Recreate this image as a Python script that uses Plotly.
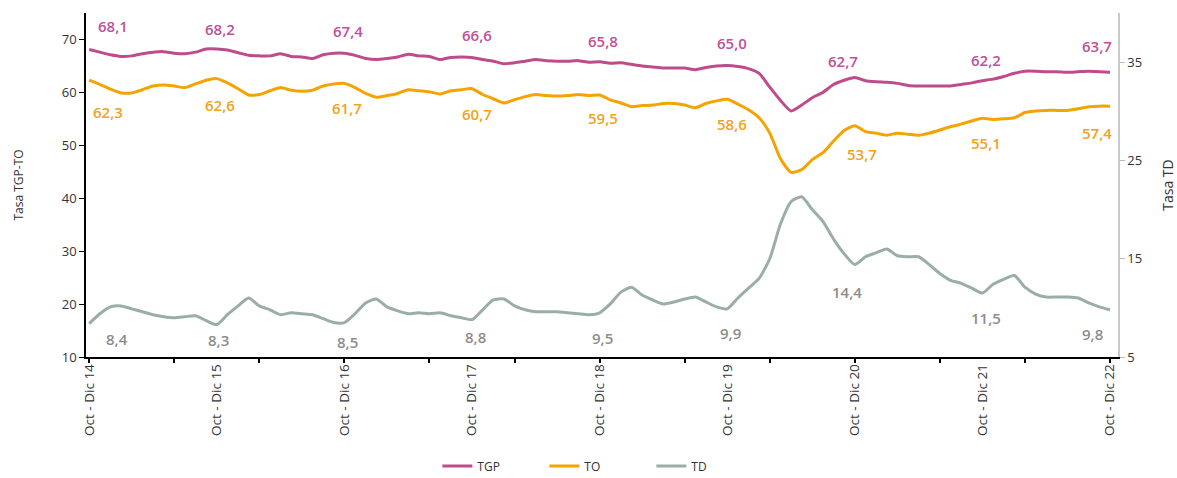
import plotly.graph_objects as go

# ---------------- data ----------------
months = list(range(97))  # moving quarters, Oct-Dic 14 ... Oct-Dic 22
year_ticks = [0, 12, 24, 36, 48, 60, 72, 84, 96]
year_labels = ["Oct - Dic 14", "Oct - Dic 15", "Oct - Dic 16", "Oct - Dic 17",
               "Oct - Dic 18", "Oct - Dic 19", "Oct - Dic 20", "Oct - Dic 21",
               "Oct - Dic 22"]

tgp = [68.1, 67.6, 67.1, 66.8, 66.9, 67.3, 67.6, 67.7, 67.4, 67.3, 67.6, 68.2,
       68.2, 68.0, 67.5, 67.0, 66.9, 66.9, 67.3, 66.8, 66.7, 66.4, 67.1, 67.4,
       67.4, 67.0, 66.4, 66.2, 66.4, 66.7, 67.2, 66.9, 66.8, 66.2, 66.6, 66.7,
       66.6, 66.2, 65.9, 65.4, 65.6, 65.9, 66.2, 66.0, 65.9, 65.9, 66.0, 65.7,
       65.8, 65.5, 65.6, 65.3, 65.0, 64.8, 64.6, 64.6, 64.6, 64.3, 64.7, 65.0,
       65.1, 64.9, 64.5, 63.6, 61.0, 58.5, 56.5, 57.6, 59.0, 60.0, 61.5, 62.3,
       62.8, 62.2, 62.0, 61.9, 61.7, 61.3, 61.2, 61.2, 61.2, 61.2, 61.5, 61.8,
       62.2, 62.5, 63.0, 63.6, 64.0, 64.0, 63.9, 63.9, 63.8, 63.9, 64.0, 63.9,
       63.8]

to = [62.3, 61.5, 60.6, 59.9, 59.9, 60.5, 61.2, 61.4, 61.2, 60.9, 61.6, 62.3,
      62.6, 61.8, 60.7, 59.5, 59.6, 60.3, 60.9, 60.4, 60.2, 60.4, 61.2, 61.6,
      61.7, 60.9, 59.8, 59.1, 59.4, 59.8, 60.5, 60.3, 60.1, 59.7, 60.3, 60.5,
      60.7, 59.6, 58.8, 58.0, 58.6, 59.2, 59.6, 59.4, 59.3, 59.4, 59.6, 59.4,
      59.5, 58.6, 58.0, 57.3, 57.5, 57.6, 57.9, 57.9, 57.6, 57.1, 57.9, 58.4,
      58.7, 57.8, 56.7, 55.2, 52.3, 47.5, 44.9, 45.4, 47.3, 48.6, 50.8, 52.8,
      53.7, 52.6, 52.3, 51.9, 52.3, 52.1, 51.9, 52.3, 52.9, 53.5, 54.0, 54.6,
      55.1, 54.9, 55.0, 55.2, 56.2, 56.5, 56.6, 56.6, 56.6, 56.9, 57.3, 57.4,
      57.4]

td = [8.4, 9.4, 10.1, 10.2, 9.9, 9.6, 9.3, 9.1, 9.0, 9.1, 9.2, 8.7,
      8.3, 9.3, 10.2, 11.0, 10.2, 9.8, 9.3, 9.5, 9.4, 9.3, 8.9, 8.5,
      8.5, 9.4, 10.5, 10.9, 10.1, 9.7, 9.4, 9.5, 9.4, 9.5, 9.2, 9.0,
      8.8, 9.8, 10.8, 10.9, 10.2, 9.8, 9.6, 9.6, 9.6, 9.5, 9.4, 9.3,
      9.5, 10.4, 11.6, 12.1, 11.3, 10.8, 10.4, 10.6, 10.9, 11.1, 10.6, 10.1,
      9.9, 11.0, 12.0, 13.0, 15.0, 18.5, 20.8, 21.3, 20.0, 18.8, 17.0, 15.5,
      14.4, 15.2, 15.6, 16.0, 15.3, 15.2, 15.2, 14.4, 13.5, 12.8, 12.5, 12.0,
      11.5, 12.4, 12.9, 13.3, 12.1, 11.4, 11.1, 11.1, 11.1, 11.0, 10.5, 10.1,
      9.8]

tgp_labels = [68.1, 68.2, 67.4, 66.6, 65.8, 65.0, 62.7, 62.2, 63.7]
to_labels = [62.3, 62.6, 61.7, 60.7, 59.5, 58.6, 53.7, 55.1, 57.4]
td_labels = [8.4, 8.3, 8.5, 8.8, 9.5, 9.9, 14.4, 11.5, 9.8]

# ---------------- styling ----------------
C_TGP = "#BF4C8A"
C_TO = "#F5A300"
C_TD = "#9AADA9"
C_TGP_LBL = "#C0509A"
C_TO_LBL = "#F0A21A"
C_TD_LBL = "#8E8C8A"
FONT = "Open Sans"

# pixel offsets for data labels (layout only)
tgp_dx = [24, 3, 4, 5, 3, 5, -12, 4, -13]
tgp_dy = [24, 20, 22, 22, 21, 23, 17, 21, 27]
to_dx = [19, 3, 3, 5, 3, 5, 7, 4, -13]
to_dy = [-32, -26, -25, -25, -23, -24, -28, -25, -27]
td_dx = [28, 2, 3, 3, 3, 3, -8, 4, -18]
td_dy = [-15, -15, -19, -17, -25, -24, -27, -25, -24]

fig = go.Figure()
fig.add_trace(go.Scatter(x=months, y=tgp, name="TGP", mode="lines",
                         line=dict(color=C_TGP, width=3, shape="spline", smoothing=0.6),
                         xaxis="x", yaxis="y"))
fig.add_trace(go.Scatter(x=months, y=to, name="TO", mode="lines",
                         line=dict(color=C_TO, width=3, shape="spline", smoothing=0.6),
                         xaxis="x", yaxis="y"))
fig.add_trace(go.Scatter(x=months, y=td, name="TD", mode="lines",
                         line=dict(color=C_TD, width=3, shape="spline", smoothing=0.6),
                         xaxis="x2", yaxis="y2"))

def fmt(v):
    return f"{v:.1f}".replace(".", ",")

annotations = []
for i, m in enumerate(year_ticks):
    annotations.append(dict(x=m, y=tgp_labels[i], xref="x", yref="y", text=fmt(tgp_labels[i]),
                            showarrow=False, xshift=tgp_dx[i], yshift=tgp_dy[i],
                            font=dict(family=FONT, size=15, color=C_TGP_LBL, weight=600)))
    annotations.append(dict(x=m, y=to_labels[i], xref="x", yref="y", text=fmt(to_labels[i]),
                            showarrow=False, xshift=to_dx[i], yshift=to_dy[i],
                            font=dict(family=FONT, size=15, color=C_TO_LBL, weight=600)))
    annotations.append(dict(x=m, y=td_labels[i], xref="x2", yref="y2", text=fmt(td_labels[i]),
                            showarrow=False, xshift=td_dx[i], yshift=td_dy[i],
                            font=dict(family=FONT, size=15, color=C_TD_LBL, weight=600)))

XR = [-0.3, 96.75]
fig.update_layout(
    width=1177, height=478,
    margin=dict(l=86, r=59, t=13, b=121, autoexpand=False),
    paper_bgcolor="white", plot_bgcolor="white",
    font=dict(family=FONT, size=12, color="#333333"),
    showlegend=True,
    legend=dict(orientation="h", x=0.496, xanchor="center",
                yref="container", y=12 / 478, yanchor="middle",
                font=dict(family=FONT, size=12, color="#333333"),
                entrywidth=62, entrywidthmode="pixels", itemwidth=30),
    xaxis=dict(range=XR, tickvals=year_ticks, ticktext=year_labels, tickangle=-90,
               ticks="", showgrid=False, zeroline=False, showline=True, automargin=False,
               linecolor="black", linewidth=1.5, tickfont=dict(size=13.5, color="#333333")),
    xaxis2=dict(range=XR, overlaying="x", anchor="y", side="bottom",
                tickmode="linear", tick0=0, dtick=8, ticks="outside", ticklen=5,
                tickcolor="black", tickwidth=1.5, showticklabels=False,
                showgrid=False, zeroline=False, showline=False),
    yaxis=dict(range=[10, 75], tickvals=[10, 20, 30, 40, 50, 60, 70], ticks="outside",
               ticklen=5, tickcolor="black", showgrid=False, zeroline=False,
               showline=True, linecolor="black", linewidth=1.5, automargin=False,
               title=dict(text="Tasa TGP-TO", standoff=36, font=dict(size=12, color="#333333")),
               tickfont=dict(size=13, color="#333333")),
    yaxis2=dict(range=[5, 40], tickvals=[5, 15, 25, 35], overlaying="y", side="right",
                anchor="x", ticks="outside", ticklen=5, tickcolor="#BBBBBB",
                showgrid=False, zeroline=False, showline=True, linecolor="#C8C8C8",
                linewidth=1.5, automargin=False,
                title=dict(text="Tasa TD", standoff=28, font=dict(size=14, color="#333333")),
                tickfont=dict(size=13, color="#333333")),
    annotations=annotations,
)

fig.write_html("out.html", config={"displayModeBar": False},
               post_script="document.body.style.margin='0';document.body.style.overflow='hidden';")
